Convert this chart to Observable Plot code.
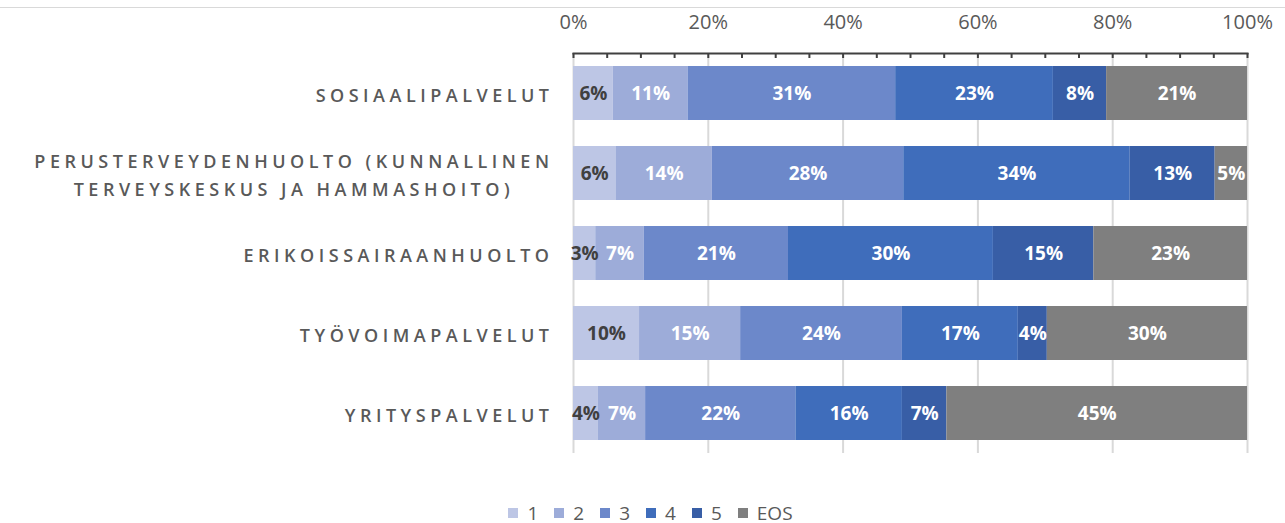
<!DOCTYPE html>
<html><head><meta charset="utf-8">
<script src="https://cdn.jsdelivr.net/npm/d3@7"></script>
<script src="https://cdn.jsdelivr.net/npm/@observablehq/plot@0.6"></script>
<style>
body{margin:0;background:#fff;font-family:"Open Sans",sans-serif;width:1285px;height:523px;position:relative;overflow:hidden}
#chart{position:absolute;top:0;left:0}
#topline{position:absolute;top:7px;left:0;width:1285px;height:1px;background:#d9d9d9}
#legend{position:absolute;top:503px;left:0;width:1285px}
#legend .lg-swatches{justify-content:center;font-family:"Open Sans",sans-serif;font-size:19px;line-height:20px;color:#595959;padding-left:32px;margin:0;min-height:20px;box-sizing:border-box}
#legend .lg-swatch{margin-right:16px}
#legend .lg-swatch > svg{margin-right:9px}
</style></head><body>
<div id="chart"></div><div id="topline"></div><div id="legend"></div>
<script>
const categories = ["SOSIAALIPALVELUT","PERUSTERVEYDENHUOLTO (KUNNALLINEN\nTERVEYSKESKUS JA HAMMASHOITO)","ERIKOISSAIRAANHUOLTO","TYÖVOIMAPALVELUT","YRITYSPALVELUT"];
const seriesNames = ["1","2","3","4","5","EOS"];
const s1  = [5.9, 6.3, 3.3, 9.8, 3.7];
const s2  = [11.1, 14.3, 7.2, 15.0, 7.0];
const s3  = [30.8, 28.4, 21.4, 24.0, 22.3];
const s4  = [23.4, 33.6, 30.4, 17.2, 15.8];
const s5  = [7.9, 12.6, 14.9, 4.3, 6.6];
const eos = [20.9, 4.8, 22.8, 29.7, 44.6];
const xTicks = [0, 20, 40, 60, 80, 100];
const xMinorTicks = [0,5,10,15,20,25,30,35,40,45,50,55,60,65,70,75,80,85,90,95,100];
const colors = ["#bdc6e5","#9dacd9","#6c88ca","#3f6dbb","#385ea6","#7f7f7f"];

const seriesValues = [s1, s2, s3, s4, s5, eos];
const data = categories.flatMap((c, i) => seriesNames.map((s, j) => ({category: c, series: s, value: seriesValues[j][i]})));
const fmt = d => Math.round(d.value) + "%";

const W = 1285, H = 475, mT = 53, mB = 22;
const chart = Plot.plot({
  width: W, height: H,
  marginLeft: 573, marginRight: 38, marginTop: mT, marginBottom: mB,
  style: {fontFamily: '"Open Sans", sans-serif', background: "transparent"},
  x: {domain: [0, 100], label: null},
  y: {domain: categories, paddingInner: 0.325, paddingOuter: 0.1625, align: 0.5, label: null},
  color: {domain: seriesNames, range: colors},
  marks: [
    Plot.gridX(xTicks, {stroke: "#d9d9d9", strokeOpacity: 1, strokeWidth: 2}),
    Plot.barX(data, Plot.stackX({x: "value", y: "category", fill: "series"})),
    Plot.text(data, Plot.stackX({x: "value", y: "category", z: "series", text: d => d.series === "1" ? fmt(d) : null, fill: "#404040", fontWeight: "bold", fontSize: 19})),
    Plot.text(data, Plot.stackX({x: "value", y: "category", z: "series", text: d => d.series !== "1" ? fmt(d) : null, fill: "white", fontWeight: "bold", fontSize: 19})),
    // minor ticks hanging 5px below the top axis line
    Plot.tickX(xMinorTicks, {x: d => d, insetBottom: H - mT - mB - 5, stroke: "#404040", strokeWidth: 2}),
    Plot.frame({anchor: "top", stroke: "#404040", strokeWidth: 2}),
    Plot.axisX(xTicks, {anchor: "top", tickSize: 0, tickPadding: 25, tickFormat: d => d + "%", fontSize: 20, fill: "#595959", label: null}),
    Plot.axisY({anchor: "left", tickSize: 0, tickPadding: 20, fontSize: 18, fontWeight: 600, fill: "#595959", lineHeight: 1.55, label: null})
  ]
});
document.getElementById("chart").appendChild(chart);

// letter spacing + centre-aligned multi-line category labels
chart.querySelectorAll('g[aria-label="y-axis tick label"] text').forEach(t => {
  t.style.letterSpacing = "4.5px";
  const spans = t.querySelectorAll("tspan");
  if (spans.length > 1) {
    let w = 0;
    spans.forEach(s => { w = Math.max(w, s.getComputedTextLength()); });
    t.setAttribute("text-anchor", "middle");
    spans.forEach(s => s.setAttribute("x", -w / 2));
  }
});

const legend = Plot.legend({color: {domain: seriesNames, range: colors}, legend: "swatches", swatchSize: 10, className: "lg"});
document.getElementById("legend").appendChild(legend);
</script>
</body></html>
